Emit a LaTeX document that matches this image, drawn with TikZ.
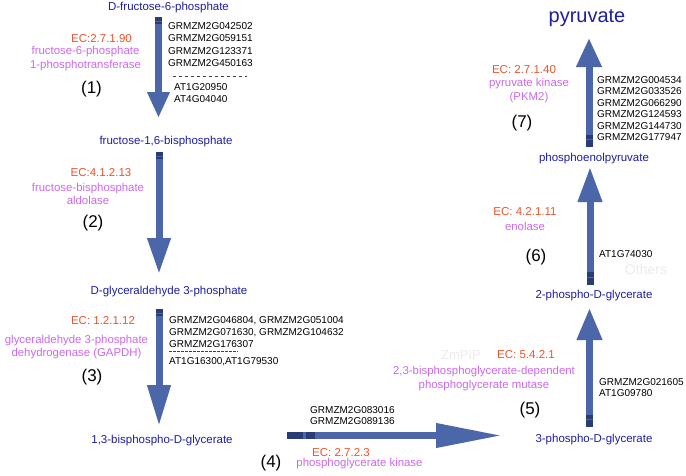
\documentclass[tikz,border=0pt]{standalone}
\usepackage{fontspec}
\setmainfont{Liberation Sans}
\usetikzlibrary{arrows.meta,calc}
\definecolor{arrowblue}{RGB}{76,102,170}
\definecolor{banddark}{RGB}{42,60,118}
\definecolor{metabcol}{RGB}{30,30,160}
\definecolor{eccol}{RGB}{235,85,45}
\definecolor{enzcol}{RGB}{205,105,235}
\definecolor{faintcol}{RGB}{236,236,240}
\tikzset{
  metab/.style={text=metabcol,font=\fontsize{11.5}{13}\selectfont,inner sep=0pt},
  ec/.style={text=eccol,font=\fontsize{11.5}{13}\selectfont,inner sep=0pt},
  enz/.style={text=enzcol,font=\fontsize{11.4}{13.5}\selectfont,inner sep=0pt,align=center},
  stepnum/.style={font=\fontsize{17}{20}\selectfont,inner sep=0pt},
  gene/.style={font=\fontsize{10}{11.7}\selectfont,inner sep=0pt,anchor=west},
  faint/.style={text=faintcol,font=\fontsize{13}{15}\selectfont,inner sep=0pt},
  flow/.style n args={2}{draw=arrowblue,line width=7pt,-{Triangle[width=#1,length=#2,fill=arrowblue]}},
  band/.style={draw=banddark,line width=7pt},
  sep/.style={draw=black!75,line width=0.6pt},
}
\begin{document}
\begin{tikzpicture}[x=1pt,y=-1pt]
\useasboundingbox (0,0) rectangle (686,475);
\fill[white] (0,0) rectangle (686,475);

% arrow end points
\coordinate (a1s) at (158.5,17);  \coordinate (a1e) at (158.5,118);
\coordinate (a2s) at (159,152);   \coordinate (a2e) at (159,274);
\coordinate (a3s) at (159,309);   \coordinate (a3e) at (159,426);
\coordinate (a4s) at (287,435.5); \coordinate (a4e) at (502,435.5);
\coordinate (a5s) at (589.5,427); \coordinate (a5e) at (589.5,308);
\coordinate (a6s) at (590,285);   \coordinate (a6e) at (590,167);
\coordinate (a7s) at (589,147);   \coordinate (a7e) at (589,38);

% block arrows
\draw[flow={21pt}{26pt}] (a1s) -- (a1e);
\draw[flow={22pt}{36pt}] (a2s) -- (a2e);
\draw[flow={22pt}{41pt}] (a3s) -- (a3e);
\draw[flow={23pt}{66pt}] (a4s) -- (a4e);
\draw[flow={24pt}{32pt}] (a5s) -- (a5e);
\draw[flow={23pt}{35pt}] (a6s) -- (a6e);
\draw[flow={24pt}{29pt}] (a7s) -- (a7e);

% dark bands at the tails
\draw[band] (a1s) -- ++(0,3.5);  \draw[band] ($(a1s)+(0,4.5)$) -- ++(0,2.5);
\draw[band] (a2s) -- ++(0,3.5);  \draw[band] ($(a2s)+(0,4.5)$) -- ++(0,2.5);
\draw[band] (a3s) -- ++(0,3.5);  \draw[band] ($(a3s)+(0,4.5)$) -- ++(0,2.5);
\draw[band] (a4s) -- ++(16,0);   \draw[band] ($(a4s)+(19,0)$) -- ++(9,0);
\draw[band] (a5s) -- ++(0,-7);   \draw[band] ($(a5s)+(0,-8.5)$) -- ++(0,-4);
\draw[band] (a6s) -- ++(0,-7);   \draw[band] ($(a6s)+(0,-8.5)$) -- ++(0,-5);
\draw[band] (a7s) -- ++(0,-7);   \draw[band] ($(a7s)+(0,-8.5)$) -- ++(0,-4);

% metabolites
\node[metab] (m1) at (168.5,8) {D-fructose-6-phosphate};
\node[metab] (m2) at (166,142) {fructose-1,6-bisphosphate};
\node[metab] (m3) at (169,292) {D-glyceraldehyde 3-phosphate};
\node[metab] (m4) at (162,441) {1,3-bisphospho-D-glycerate};
\node[metab] (m5) at (594,440) {3-phospho-D-glycerate};
\node[metab] (m6) at (594,296) {2-phospho-D-glycerate};
\node[metab] (m7) at (594,159) {phosphoenolpyruvate};
\node[metab,font=\fontsize{20}{24}\selectfont] (m8) at (587,18) {pyruvate};

% EC numbers
\node[ec] (ec1) at (101.5,39) {EC:2.7.1.90};
\node[ec] (ec2) at (101,173) {EC:4.1.2.13};
\node[ec] (ec3) at (103,321) {EC: 1.2.1.12};
\node[ec] (ec4) at (341,453) {EC: 2.7.2.3};
\node[ec] (ec5) at (526,355) {EC: 5.4.2.1};
\node[ec] (ec6) at (525,212) {EC: 4.2.1.11};
\node[ec] (ec7) at (524,70) {EC: 2.7.1.40};

% enzymes
\node[enz] (e1) at (85.5,58.5) {fructose-6-phosphate\\1-phosphotransferase};
\node[enz] (e2) at (88,194) {fructose-bisphosphate\\aldolase};
\node[enz] (e3) at (76.5,347) {glyceraldehyde 3-phosphate\\dehydrogenase (GAPDH)};
\node[enz] (e4) at (359.5,464) {phosphoglycerate kinase};
\node[enz] (e5) at (484,378.5) {2,3-bisphosphoglycerate-dependent\\phosphoglycerate mutase};
\node[enz] (e6) at (525,226) {enolase};
\node[enz] (e7) at (529,90.5) {pyruvate kinase\\(PKM2)};

% step numbers
\node[stepnum] (s1) at (91.5,89) {(1)};
\node[stepnum] (s2) at (93,223) {(2)};
\node[stepnum] (s3) at (92,377) {(3)};
\node[stepnum] (s4) at (271,463) {(4)};
\node[stepnum] (s5) at (530,410) {(5)};
\node[stepnum] (s6) at (536,257) {(6)};
\node[stepnum] (s7) at (522,123) {(7)};

% faint labels
\node[faint] (w1) at (461,355) {ZmPIP};
\node[faint,font=\fontsize{14}{16}\selectfont] (w2) at (646,269) {Others};

% gene lists
\node[gene] (g1a) at (168,26) {GRMZM2G042502};
\node[gene] (g1b) at (168,38.5) {GRMZM2G059151};
\node[gene] (g1c) at (168,51) {GRMZM2G123371};
\node[gene] (g1d) at (168,63) {GRMZM2G450163};
\coordinate (d1s) at (173,76); \coordinate (d1e) at (247,76);
\draw[sep,dash pattern=on 3pt off 3pt] (d1s) -- (d1e);
\node[gene] (g1e) at (174,87) {AT1G20950};
\node[gene] (g1f) at (174,99) {AT4G04040};

\node[gene] (g3a) at (169,321) {GRMZM2G046804, GRMZM2G051004};
\node[gene] (g3b) at (169,332.5) {GRMZM2G071630, GRMZM2G104632};
\node[gene] (g3c) at (169,344) {GRMZM2G176307};
\coordinate (d3s) at (169,351); \coordinate (d3e) at (238,351);
\draw[sep,dash pattern=on 2.5pt off 1.5pt] (d3s) -- (d3e);
\node[gene] (g3d) at (169,362) {AT1G16300,AT1G79530};

\node[gene] (g4a) at (310,410) {GRMZM2G083016};
\node[gene] (g4b) at (310,421.5) {GRMZM2G089136};

\node[gene] (g5a) at (599,382) {GRMZM2G021605};
\node[gene] (g5b) at (599,393.5) {AT1G09780};

\node[gene] (g6a) at (599,254) {AT1G74030};

\node[gene] (g7a) at (597,80) {GRMZM2G004534};
\node[gene] (g7b) at (597,91.5) {GRMZM2G033526};
\node[gene] (g7c) at (597,103) {GRMZM2G066290};
\node[gene] (g7d) at (597,114.5) {GRMZM2G124593};
\node[gene] (g7e) at (597,126) {GRMZM2G144730};
\node[gene] (g7f) at (597,137.5) {GRMZM2G177947};
\end{tikzpicture}
\end{document}
